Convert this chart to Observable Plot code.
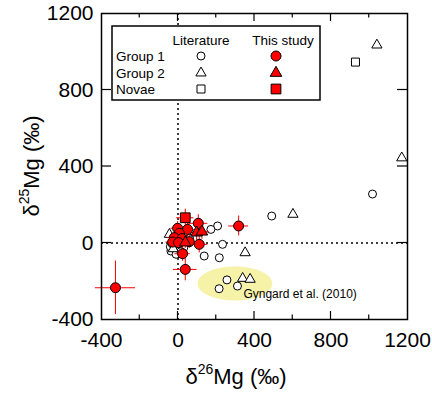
<!DOCTYPE html>
<html><head><meta charset="utf-8">
<script src="https://cdn.jsdelivr.net/npm/d3@7"></script>
<script src="https://cdn.jsdelivr.net/npm/@observablehq/plot@0.6"></script>
<style>body{margin:0;background:#fff} #chart{width:432px;height:393px}</style>
</head><body><div id="chart"></div>
<script>
// ---- Data ----
const xTicks = [-400, 0, 400, 800, 1200];
const yTicks = [-400, 0, 400, 800, 1200];
const xMajorInner = [0, 400, 800];
const xMinorInner = [-200, 200, 600, 1000];
const yMajorInner = [0, 400, 800];

// Literature, Group 1 (open circles)
const lit1X = [490, 1017, 207, 172, 233, 137, 216, 256, 215, 311, -37, -10, -40, 10, -20, 5, 30, 60, -30, 15];
const lit1Y = [141, 256, 89, 71, -7, -68, -77, -193, -239, -225, -42, -59, -20, -30, 20, 45, -25, 25, -5, -45];
// Literature, Group 2 (open triangles)
const lit2X = [1040, 1170, 601, 351, 338, 377, -45, -25];
const lit2Y = [1035, 445, 150, -51, -185, -190, 45, -30];
// Literature, Novae (open squares)
const litNovaX = [928];
const litNovaY = [946];

// This study, Group 1 (red circles) with 1-sigma errors
const st1X = [-327, 317, 38, 106, 111, 24, -2, 50, 7, -19, 21, -28, 3, 59];
const st1Y = [-234, 89, -138, 103, -7, -56, 77, 71, 51, 28, 23, 5, 2, 7];
const st1XErr = [105, 52, 62, 50, 45, 40, 35, 40, 30, 35, 30, 35, 30, 35];
const st1YErr = [140, 52, 60, 45, 45, 40, 35, 40, 30, 30, 30, 30, 30, 35];
// This study, Group 2 (red triangles)
const st2X = [97, 125, 38];
const st2Y = [54, 59, 2];
const st2XErr = [40, 40, 30];
const st2YErr = [40, 40, 30];
// This study, Novae (red squares)
const stNovaX = [38];
const stNovaY = [132];
const stNovaXErr = [45];
const stNovaYErr = [45];

// Annotation
const annotLabel = ["Gyngard et al. (2010)"];
const annotX = [342];
const annotY = [-268];
const ellipseCenter = [300, -214];
const ellipseRadii = [196, 89];

const legendRows = ["Group 1", "Group 2", "Novae"];
const legendCols = ["Literature", "This study"];

// ---- Build tables ----
const pts = (xs, ys, xe, ye) => xs.map((x, i) => ({x, y: ys[i], xe: xe ? xe[i] : 0, ye: ye ? ye[i] : 0}));
const lit1 = pts(lit1X, lit1Y), lit2 = pts(lit2X, lit2Y), litN = pts(litNovaX, litNovaY);
const st1 = pts(st1X, st1Y, st1XErr, st1YErr);
const st2 = pts(st2X, st2Y, st2XErr, st2YErr);
const stN = pts(stNovaX, stNovaY, stNovaXErr, stNovaYErr);
const allStudy = [...st1, ...st2, ...stN];
const annot = annotLabel.map((t, i) => ({t, x: annotX[i], y: annotY[i]}));

const RED = "#ff0000";
const FONT = "'Liberation Sans', Arial, Helvetica, sans-serif";

const plot = Plot.plot({
  width: 432, height: 393,
  marginLeft: 101, marginRight: 25, marginTop: 13, marginBottom: 74,
  style: {fontFamily: FONT, fontSize: "21px", background: "white", color: "black"},
  x: {domain: [-400, 1200], ticks: xTicks, tickSize: 0, tickPadding: 13, tickFormat: d => String(d), label: null},
  y: {domain: [-400, 1200], ticks: yTicks, tickSize: 0, tickPadding: 8, tickFormat: d => String(d), label: null},
  marks: [
    Plot.ruleX([0], {stroke: "black", strokeWidth: 1.5, strokeDasharray: "2,3"}),
    Plot.ruleY([0], {stroke: "black", strokeWidth: 1.5, strokeDasharray: "2,3"}),
    Plot.dot(lit1, {x: "x", y: "y", r: 4, symbol: "circle", fill: "white", stroke: "black", strokeWidth: 1}),
    Plot.dot(lit2, {x: "x", y: "y", r: 3.8, symbol: "triangle", fill: "white", stroke: "black", strokeWidth: 1}),
    Plot.dot(litN, {x: "x", y: "y", r: 4.5, symbol: "square", fill: "white", stroke: "black", strokeWidth: 1}),
    Plot.ruleY(allStudy, {y: "y", x1: d => d.x - d.xe, x2: d => d.x + d.xe, stroke: RED, strokeWidth: 1}),
    Plot.ruleX(allStudy, {x: "x", y1: d => d.y - d.ye, y2: d => d.y + d.ye, stroke: RED, strokeWidth: 1}),
    Plot.dot(st1, {x: "x", y: "y", r: 5, symbol: "circle", fill: RED, stroke: "black", strokeWidth: 1}),
    Plot.dot(st2, {x: "x", y: "y", r: 4.3, symbol: "triangle", fill: RED, stroke: "black", strokeWidth: 1}),
    Plot.dot(stN, {x: "x", y: "y", r: 5.5, symbol: "square", fill: RED, stroke: "black", strokeWidth: 1}),
    Plot.frame({stroke: "black", strokeWidth: 1.5}),
    Plot.text(annot, {x: "x", y: "y", text: "t", textAnchor: "start", fontSize: 12, fill: "black"})
  ]
});

const svg = d3.select(plot);
const sx = plot.scale("x"), sy = plot.scale("y");
const X = v => sx.apply(v), Y = v => sy.apply(v);
const x0 = X(-400), x1 = X(1200), y0 = Y(-400), y1 = Y(1200);

// Highlight ellipse behind the points
const ns = "http://www.w3.org/2000/svg";
const ell = document.createElementNS(ns, "ellipse");
ell.setAttribute("cx", X(ellipseCenter[0]));
ell.setAttribute("cy", Y(ellipseCenter[1]));
ell.setAttribute("rx", X(ellipseRadii[0]) - X(0));
ell.setAttribute("ry", Y(0) - Y(ellipseRadii[1]));
ell.setAttribute("fill", "#f6f2a8");
const firstDot = plot.querySelector('g[aria-label="dot"]');
if (firstDot) plot.insertBefore(ell, firstDot); else plot.appendChild(ell);

// Inner ticks on all four sides
const tg = svg.append("g").attr("stroke", "black").attr("stroke-width", 1.2);
xMajorInner.forEach(v => {
  tg.append("line").attr("x1", X(v)).attr("x2", X(v)).attr("y1", y0).attr("y2", y0 - 8);
  tg.append("line").attr("x1", X(v)).attr("x2", X(v)).attr("y1", y1).attr("y2", y1 + 8);
});
xMinorInner.forEach(v => {
  tg.append("line").attr("x1", X(v)).attr("x2", X(v)).attr("y1", y0).attr("y2", y0 - 4.5);
  tg.append("line").attr("x1", X(v)).attr("x2", X(v)).attr("y1", y1).attr("y2", y1 + 4.5);
});
yMajorInner.forEach(v => {
  tg.append("line").attr("y1", Y(v)).attr("y2", Y(v)).attr("x1", x0).attr("x2", x0 + 10);
  tg.append("line").attr("y1", Y(v)).attr("y2", Y(v)).attr("x1", x1).attr("x2", x1 - 10);
});

// Axis titles with superscripts
const xt = svg.append("text").attr("x", 236).attr("y", 384).attr("text-anchor", "middle")
  .attr("font-family", FONT).attr("font-size", 22).attr("fill", "black");
xt.append("tspan").text("δ");
xt.append("tspan").attr("dy", -10).attr("font-size", 14).text("26");
xt.append("tspan").attr("dy", 10).text("Mg (‰)");

const yt = svg.append("text").attr("transform", `translate(39,${(y0 + y1) / 2}) rotate(-90)`)
  .attr("text-anchor", "middle").attr("font-family", FONT).attr("font-size", 22).attr("fill", "black");
yt.append("tspan").text("δ");
yt.append("tspan").attr("dy", -10).attr("font-size", 14).text("25");
yt.append("tspan").attr("dy", 10).text("Mg (‰)");

// Legend box
const lg = svg.append("g").attr("font-family", FONT).attr("font-size", 13.5).attr("fill", "black");
lg.append("rect").attr("x", 112).attr("y", 26).attr("width", 208).attr("height", 74)
  .attr("fill", "white").attr("stroke", "black").attr("stroke-width", 1.5);
const colX = [201, 276];
legendCols.forEach((c, i) => lg.append("text").attr("x", colX[i] + (i ? 7 : 0)).attr("y", 45).attr("text-anchor", "middle").text(c));
const rowY = [56, 73, 89];
legendRows.forEach((r, i) => lg.append("text").attr("x", 116).attr("y", rowY[i] + 5).attr("text-anchor", "start").text(r));
const syms = [[d3.symbolCircle, 4, 5], [d3.symbolTriangle, 3.8, 4.3], [d3.symbolSquare, 4.5, 5.5]];
syms.forEach(([s, rOpen, rFill], i) => {
  lg.append("path").attr("d", d3.symbol(s, Math.PI * rOpen * rOpen)()).attr("transform", `translate(${colX[0]},${rowY[i]})`)
    .attr("fill", "white").attr("stroke", "black");
  lg.append("path").attr("d", d3.symbol(s, Math.PI * rFill * rFill)()).attr("transform", `translate(${colX[1]},${rowY[i]})`)
    .attr("fill", RED).attr("stroke", "black");
});

document.getElementById("chart").appendChild(plot);
</script>
</body></html>
